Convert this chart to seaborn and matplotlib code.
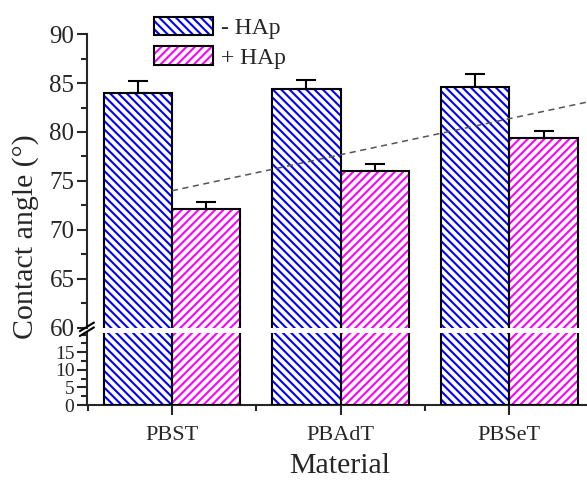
import numpy as np
import pandas as pd
import matplotlib
matplotlib.use("Agg")
import matplotlib.pyplot as plt
from matplotlib.patches import Patch, Rectangle
from matplotlib.lines import Line2D
from matplotlib.ticker import MultipleLocator
import seaborn as sns

# data
materials = ["PBST", "PBAdT", "PBSeT"]
conditions = ["- HAp", "+ HAp"]
angle_no_hap = [84.0, 84.4, 84.6]
angle_hap = [72.1, 76.0, 79.4]
err_no_hap = [1.2, 0.9, 1.3]
err_hap = [0.8, 0.7, 0.75]
trend_x = [0.0, 2.5]
trend_y = [74.0, 83.2]

hatch_colors = {"- HAp": "#0000ff", "+ HAp": "#ff00ff"}
hatches = {"- HAp": "\\\\\\\\", "+ HAp": "////"}

df = pd.DataFrame({
    "Material": materials * 2,
    "cond": [conditions[0]] * 3 + [conditions[1]] * 3,
    "angle": angle_no_hap + angle_hap,
})

sns.set_theme(style="white")
plt.rcParams["font.family"] = ["Liberation Serif", "DejaVu Serif"]
plt.rcParams["hatch.linewidth"] = 1.5
plt.rcParams["axes.linewidth"] = 1.5

fig = plt.figure(figsize=(5.87, 4.80), dpi=100)
ax_top = fig.add_axes([0.148, 0.317, 0.852, 0.612])
ax_low = fig.add_axes([0.148, 0.156, 0.852, 0.150])

xlim = (-0.504, 2.46)


def draw_bars(ax):
    sns.barplot(data=df, x="Material", y="angle", hue="cond", order=materials,
                hue_order=conditions, palette={c: "white" for c in conditions},
                width=0.81, gap=0, errorbar=None, legend=False, ax=ax)
    bars = list(ax.patches)
    for i, p in enumerate(bars):
        cond = conditions[i // len(materials)]
        p.set_facecolor("white")
        p.set_edgecolor(hatch_colors[cond])
        p.set_hatch(hatches[cond])
        p.set_linewidth(0)
        ax.add_patch(Rectangle(p.get_xy(), p.get_width(), p.get_height(),
                               fill=False, edgecolor="black", lw=1.5, zorder=3))
    return bars


bars = draw_bars(ax_top)
draw_bars(ax_low)

# upward error bars
centers = [p.get_x() + p.get_width() / 2 for p in bars]
vals = angle_no_hap + angle_hap
errs = err_no_hap + err_hap
ax_top.errorbar(centers, vals, yerr=[np.zeros(len(errs)), errs], fmt="none",
                ecolor="black", elinewidth=1.5, capsize=7, capthick=1.5, zorder=4)

# dashed trend line
ax_top.plot(trend_x, trend_y, linestyle=(0, (4, 3)), color="#555555", lw=1.1,
            zorder=5, clip_on=False)

for ax in (ax_top, ax_low):
    ax.set_xlim(*xlim)
    ax.spines["top"].set_visible(False)
    ax.spines["right"].set_visible(False)
    ax.set_xlabel("")
    ax.set_ylabel("")
    ax.tick_params(axis="y", which="major", direction="out", length=7, width=1.5,
                   left=True, pad=2)
    ax.tick_params(axis="y", which="minor", direction="out", length=4, width=1.5, left=True)

ax_top.set_ylim(60, 90)
ax_top.yaxis.set_major_locator(MultipleLocator(5))
ax_top.yaxis.set_minor_locator(MultipleLocator(2.5))
ax_top.tick_params(axis="y", labelsize=18)
ax_top.spines["bottom"].set_visible(False)
ax_top.tick_params(axis="x", which="both", bottom=False, labelbottom=False)

ax_low.set_ylim(0, 20.4)
ax_low.set_yticks([0, 5, 10, 15])
ax_low.yaxis.set_minor_locator(MultipleLocator(2.5))
ax_low.tick_params(axis="y", labelsize=14)
ax_low.set_xticks(range(len(materials)))
ax_low.set_xticklabels(materials)
ax_low.xaxis.set_minor_locator(MultipleLocator(0.5))
ax_low.tick_params(axis="x", which="major", direction="out", length=7, width=1.5,
                   bottom=True, labelsize=16, pad=8)
ax_low.tick_params(axis="x", which="minor", direction="out", length=4, width=1.5, bottom=True)

# axis break marks
for y0 in (0.312, 0.322):
    fig.add_artist(Line2D([0.136, 0.160], [y0 - 0.012, y0 + 0.006], color="black",
                          lw=1.5, transform=fig.transFigure))

fig.text(0.043, 0.506, "Contact angle (°)", rotation=90, ha="center", va="center",
         fontsize=21.5)
fig.text(0.579, 0.03, "Material", ha="center", va="center", fontsize=21.5)

handles = [
    (Patch(facecolor="white", edgecolor=hatch_colors[c], hatch=hatches[c], lw=0),
     Patch(facecolor="none", edgecolor="black", lw=1.5))
    for c in conditions
]
fig.legend(handles, conditions, loc="upper left", bbox_to_anchor=(0.247, 0.985),
           frameon=False, fontsize=17, handlelength=2.5, handleheight=0.85,
           handletextpad=0.3, labelspacing=0.3, borderaxespad=0)

fig.savefig("out.png", dpi=100, facecolor="white")
